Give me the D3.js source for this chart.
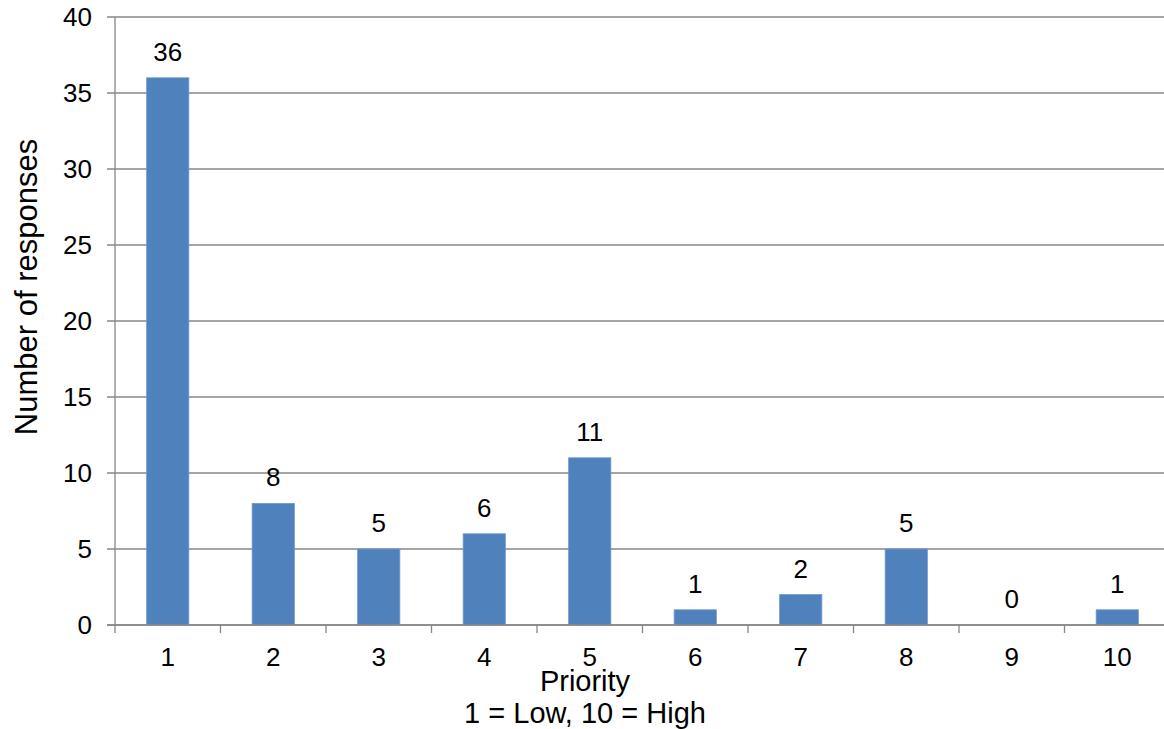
<!DOCTYPE html>
<html>
<head>
<meta charset="utf-8">
<script src="https://cdn.jsdelivr.net/npm/d3@7"></script>
<style>
  body { margin: 0; background: #fff; }
  svg { display: block; font-family: "Liberation Sans", Arial, sans-serif; }
</style>
</head>
<body>
<div id="chart"></div>
<script>
  // data
  const priorities = ["1", "2", "3", "4", "5", "6", "7", "8", "9", "10"];
  const responses = [36, 8, 5, 6, 11, 1, 2, 5, 0, 1];
  const yTicks = [0, 5, 10, 15, 20, 25, 30, 35, 40];

  const width = 1164, height = 729;
  const plotLeft = 115, plotRight = 1170, plotTop = 17, plotBottom = 625;

  const svg = d3.select("#chart")
    .append("svg")
    .attr("width", width)
    .attr("height", height);

  const x = d3.scaleBand()
    .domain(priorities)
    .range([plotLeft, plotRight])
    .paddingInner(0.6)
    .paddingOuter(0.3);

  // boundary ticks between categories
  const xEdge = d3.scaleLinear().domain([0, priorities.length]).range([plotLeft, plotRight]);

  const y = d3.scaleLinear().domain([0, 40]).range([plotBottom, plotTop]);

  // gridlines
  svg.append("g")
    .selectAll("line")
    .data(yTicks)
    .join("line")
    .attr("x1", plotLeft - 8)
    .attr("x2", width)
    .attr("y1", d => y(d))
    .attr("y2", d => y(d))
    .attr("stroke", "#878787")
    .attr("stroke-width", 1.3);

  // y axis line
  svg.append("line")
    .attr("x1", plotLeft).attr("x2", plotLeft)
    .attr("y1", plotTop).attr("y2", plotBottom)
    .attr("stroke", "#878787")
    .attr("stroke-width", 1.3);

  // y tick labels
  svg.append("g")
    .selectAll("text")
    .data(yTicks)
    .join("text")
    .attr("x", plotLeft - 23)
    .attr("y", d => y(d))
    .attr("dy", "0.36em")
    .attr("text-anchor", "end")
    .attr("font-size", 26)
    .text(d => d);

  // x tick marks
  svg.append("g")
    .selectAll("line")
    .data(d3.range(priorities.length + 1))
    .join("line")
    .attr("x1", d => xEdge(d))
    .attr("x2", d => xEdge(d))
    .attr("y1", plotBottom)
    .attr("y2", plotBottom + 8)
    .attr("stroke", "#878787")
    .attr("stroke-width", 1.3);

  // bars
  svg.append("g")
    .selectAll("rect")
    .data(responses)
    .join("rect")
    .attr("x", (d, i) => x(priorities[i]))
    .attr("y", d => y(d))
    .attr("width", x.bandwidth())
    .attr("height", d => y(0) - y(d))
    .attr("fill", "#4F81BD")
    .attr("stroke", "#6f98cb")
    .attr("stroke-width", 0.8);

  // x axis line drawn over bars
  svg.append("line")
    .attr("x1", plotLeft - 8).attr("x2", width)
    .attr("y1", plotBottom).attr("y2", plotBottom)
    .attr("stroke", "#878787")
    .attr("stroke-width", 1.3);

  // value labels
  svg.append("g")
    .selectAll("text")
    .data(responses)
    .join("text")
    .attr("x", (d, i) => x(priorities[i]) + x.bandwidth() / 2)
    .attr("y", d => y(d) - 17)
    .attr("text-anchor", "middle")
    .attr("font-size", 26)
    .text(d => d);

  // x tick labels
  svg.append("g")
    .selectAll("text")
    .data(priorities)
    .join("text")
    .attr("x", d => x(d) + x.bandwidth() / 2)
    .attr("y", 666)
    .attr("text-anchor", "middle")
    .attr("font-size", 26)
    .text(d => d);

  // axis titles (centred on the whole chart area, not the plot)
  const titleX = 585;
  svg.append("text")
    .attr("x", titleX)
    .attr("y", 691)
    .attr("text-anchor", "middle")
    .attr("font-size", 29)
    .text("Priority");

  svg.append("text")
    .attr("x", titleX)
    .attr("y", 723)
    .attr("text-anchor", "middle")
    .attr("font-size", 29)
    .text("1 = Low, 10 = High");

  svg.append("text")
    .attr("transform", `translate(37, 287) rotate(-90)`)
    .attr("text-anchor", "middle")
    .attr("font-size", 31)
    .text("Number of responses");
</script>
</body>
</html>
